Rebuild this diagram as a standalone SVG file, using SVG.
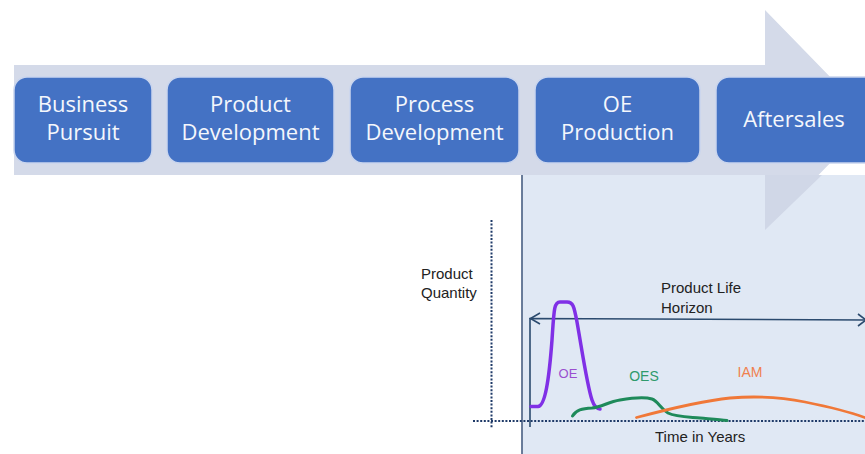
<svg xmlns="http://www.w3.org/2000/svg" width="865" height="454" viewBox="0 0 865 454">
<defs>
<style>
.box{fill:#4472c4;stroke:#c9d5ee;stroke-width:1.5}
.bt{font-family:"Open Sans",sans-serif;font-size:22px;fill:#f4f7fc;text-anchor:middle}
.lbl{font-family:"Liberation Sans",Arial,sans-serif;font-size:15px;fill:#222}
.dot{stroke:#1f3a68;stroke-width:2;stroke-dasharray:2 1.6;fill:none}
.crv{fill:none;stroke-linecap:round;stroke-linejoin:round}
</style>
</defs>
<rect width="865" height="454" fill="#ffffff"/>
<!-- background process arrow -->
<polygon points="14,65 765,65 765,10 872,120 765,230 765,175 14,175" fill="#d4dae9"/>
<!-- highlighted panel -->
<rect x="522" y="175" width="343" height="279" fill="#e0e8f4"/>
<polygon points="765,175 822,175 765,230" fill="#d0d7e7"/>
<line x1="522" y1="175" x2="522" y2="454" stroke="#5b6f8f" stroke-width="1.8"/>

<g id="business-pursuit">
<rect class="box" x="14" y="77" width="138" height="86" rx="13"/>
<text class="bt" x="83" y="112">Business</text>
<text class="bt" x="83" y="140">Pursuit</text>
</g>
<g id="product-development">
<rect class="box" x="167" y="77" width="167" height="86" rx="13"/>
<text class="bt" x="250.5" y="112">Product</text>
<text class="bt" x="250.5" y="140">Development</text>
</g>
<g id="process-development">
<rect class="box" x="350" y="77" width="169" height="86" rx="13"/>
<text class="bt" x="434.5" y="112">Process</text>
<text class="bt" x="434.5" y="140">Development</text>
</g>
<g id="oe-production">
<rect class="box" x="535" y="77" width="165" height="86" rx="13"/>
<text class="bt" x="617.5" y="112">OE</text>
<text class="bt" x="617.5" y="140">Production</text>
</g>
<g id="aftersales">
<rect class="box" x="716" y="77" width="165" height="86" rx="13"/>
<text class="bt" x="794" y="127">Aftersales</text>
</g>

<!-- chart -->
<g id="axes">
<line class="dot" x1="491.5" y1="220" x2="491.5" y2="428"/>
<line class="dot" x1="473" y1="421" x2="865" y2="421"/>
</g>
<text class="lbl" x="421" y="279">Product</text>
<text class="lbl" x="421" y="298">Quantity</text>

<g id="connectors">
<polyline points="530,427 530,318.5 865,320" fill="none" stroke="#2b4a6e" stroke-width="1.6"/>
<polyline points="540,313 530.5,318.5 540,324" fill="none" stroke="#2b4a6e" stroke-width="1.6"/>
<polyline points="858,314 866,320 858,326" fill="none" stroke="#2b4a6e" stroke-width="1.6"/>
</g>
<text class="lbl" x="661" y="293" font-size="16">Product Life</text>
<text class="lbl" x="661" y="313" font-size="16">Horizon</text>
<text class="lbl" x="655" y="442" font-size="15.7">Time in Years</text>

<g id="oe-curve">
<path class="crv" stroke="#8030e6" stroke-width="3.5" d="M531,406.5 L538,406.5 C545,406 549,380 552,340 C554,310 554,302 560,302 L567,302 C573,302 574,306 577,322 C582,350 587,385 592,400 C594,406 596,408.5 600,409"/>
<text x="568" y="378" font-family="Liberation Sans,Arial,sans-serif" font-size="13" fill="#9a4fd0" text-anchor="middle">OE</text>
</g>
<g id="oes-curve">
<path class="crv" stroke="#1e8a5a" stroke-width="3" d="M572.5,416 C576,410 582,408.5 592,408 C602,407 608,402 620,400 C632,398 645,397 652,399 C658,401 660,408 668,413 C676,417 690,417 700,418 C712,419 720,419.5 727,420.5"/>
<text x="644" y="381" font-family="Liberation Sans,Arial,sans-serif" font-size="14" fill="#2f9a6c" text-anchor="middle">OES</text>
</g>
<g id="iam-curve">
<path class="crv" stroke="#f07838" stroke-width="2.8" d="M636.5,417.5 C665,410 700,401 730,398 C760,395.5 785,398 805,402 C830,407 850,412 866,418"/>
<text x="750" y="377" font-family="Liberation Sans,Arial,sans-serif" font-size="14" fill="#f0804e" text-anchor="middle">IAM</text>
</g>
</svg>
